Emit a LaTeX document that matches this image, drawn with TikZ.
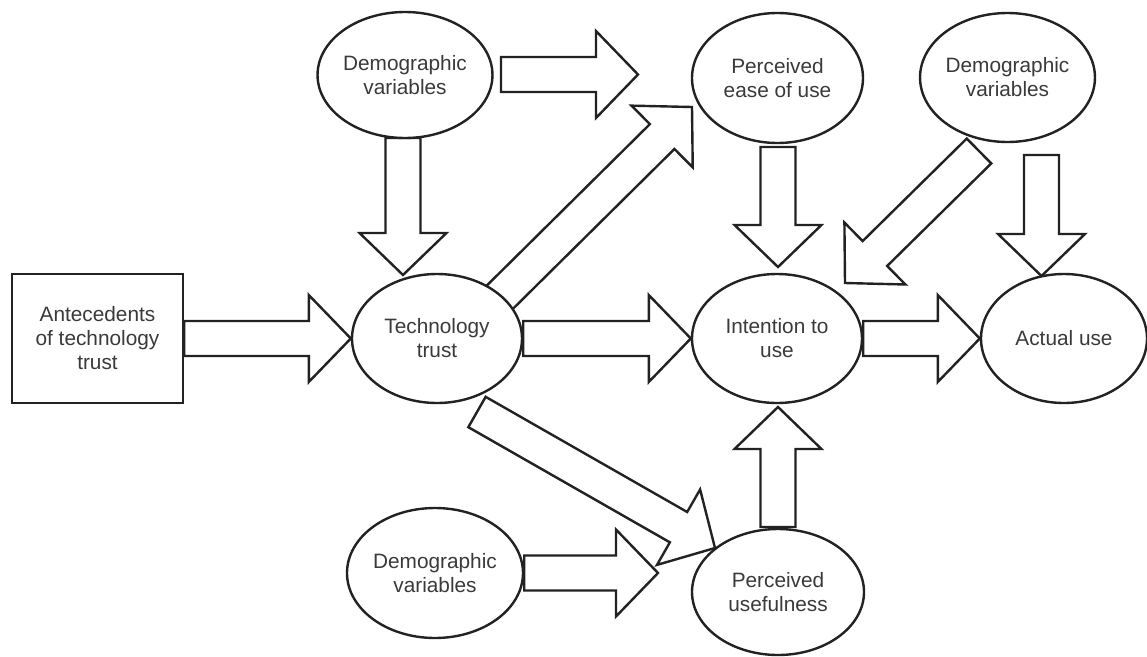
\documentclass[tikz,border=0pt]{standalone}
\usepackage{fontspec}
\setmainfont{Liberation Sans}
\usetikzlibrary{calc,shapes.geometric,backgrounds}
\definecolor{ln}{HTML}{222222}
\definecolor{tx}{HTML}{3A3A3A}
\newcommand\sw{13.1pt}
\newcommand\hw{32.6pt}
\newcommand\hl{31.5pt}
\newcommand\blockarrow[2]{%
  \path ($(#2)!\hl!(#1)$) coordinate (bb);
  \draw[blk] ($(#1)!\sw!90:(#2)$) -- ($(bb)!\sw!90:(#2)$) -- ($(bb)!\hw!90:(#2)$) -- (#2)
    -- ($(bb)!\hw!-90:(#2)$) -- ($(bb)!\sw!-90:(#2)$) -- ($(#1)!\sw!-90:(#2)$) -- cycle;}
\begin{document}
\begin{tikzpicture}[x=0.75pt, y=-0.75pt,
  blk/.style={draw=ln, fill=white, line width=1.8pt, line join=miter},
  lbl/.style={font=\fontsize{15.6}{18}\selectfont, text=tx, align=center, inner sep=0pt},
  ell/.style 2 args={lbl, ellipse, draw=ln, fill=white, line width=1.8pt,
    minimum width=0.75pt*#1, minimum height=0.75pt*#2},
  box/.style={lbl, rectangle, draw=ln, fill=white, line width=1.8pt,
    minimum width=128.25pt, minimum height=96.75pt}]
\useasboundingbox (0,0) rectangle (1147,657);
% nodes
\node[box] (ant) at (97.5,338.5) {Antecedents\\of technology\\trust};
\node[ell={170}{129}] (tt) at (437,338.5) {Technology\\trust};
\node[ell={174}{126}] (d1) at (405,75) {Demographic\\variables};
\node[ell={171}{130}] (peou) at (777.5,78) {Perceived\\ease of use};
\node[ell={173}{129}] (d2) at (1007.5,77.5) {Demographic\\variables};
\node[ell={170}{129}] (itu) at (777,338.5) {Intention to\\use};
\node[ell={166}{129}] (au) at (1064,338.5) {Actual use};
\node[ell={172}{126}] (pu) at (778,592) {Perceived\\usefulness};
\node[ell={176}{130}] (d3) at (435,573) {Demographic\\variables};
% free ends of the block arrows
\coordinate (a1s) at (501,74.5);  \coordinate (a1e) at (638,74.5);
\coordinate (a2s) at (403,138);   \coordinate (a2e) at (403,275);
\coordinate (a3s) at (495,302);   \coordinate (a3e) at (692,107);
\coordinate (a4s) at (477,412);   \coordinate (a4e) at (715,548);
\coordinate (a5s) at (778,147);   \coordinate (a5e) at (778,267);
\coordinate (a6s) at (979,151);   \coordinate (a6e) at (845,283);
\coordinate (a7s) at (1041.5,155); \coordinate (a7e) at (1041.5,276);
\coordinate (a8e) at (658,573);
\coordinate (a9s) at (778,527);   \coordinate (a9e) at (778,407);
\begin{scope}[on background layer]
\fill[white] (0,0) rectangle (1147,657);
\blockarrow{ant.east}{tt.west}
\blockarrow{tt.east}{itu.west}
\blockarrow{itu.east}{au.west}
\blockarrow{a1s}{a1e}
\blockarrow{a2s}{a2e}
\blockarrow{a3s}{a3e}
\blockarrow{a5s}{a5e}
\blockarrow{a6s}{a6e}
\blockarrow{a7s}{a7e}
\blockarrow{d3.east}{a8e}
\blockarrow{a9s}{a9e}
\blockarrow{a4s}{a4e}
\end{scope}
\end{tikzpicture}
\end{document}
